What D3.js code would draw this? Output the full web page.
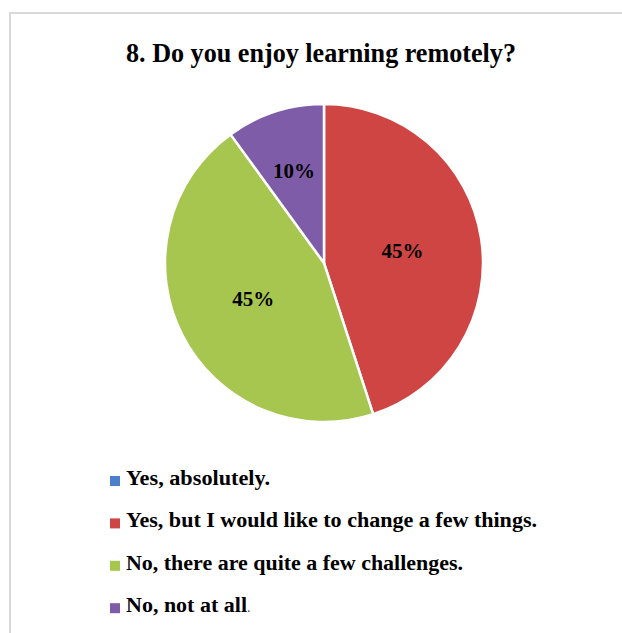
<!DOCTYPE html>
<html><head><meta charset="utf-8">
<script src="https://cdn.jsdelivr.net/npm/d3@7"></script>
<style>html,body{margin:0;background:#fff;overflow:hidden;} svg{display:block;}</style>
</head><body>
<script>
const title = "8. Do you enjoy learning remotely?";
const categories = ["Yes, absolutely.", "Yes, but I would like to change a few things.", "No, there are quite a few challenges.", "No, not at all"];
const values = [0, 45, 45, 10];
const colors = ["#4a7fcc", "#ce4543", "#a6c64f", "#7f5ca8"];

const W = 622, H = 633;
const svg = d3.select("body").append("svg").attr("width", W).attr("height", H);
svg.append("rect").attr("width", W).attr("height", H).attr("fill", "#fff");
// frame (top and left edges visible)
svg.append("path").attr("d", `M10,${H} V13 H${W}`)
  .attr("fill", "none").attr("stroke", "#d9d9d9").attr("stroke-width", 2);

const font = "'Liberation Serif','Times New Roman',serif";
svg.append("text").attr("x", 321).attr("y", 62).attr("text-anchor", "middle")
  .attr("font-family", font).attr("font-weight", "bold").attr("font-size", 28)
  .attr("textLength", 390).attr("lengthAdjust", "spacingAndGlyphs")
  .attr("fill", "#000").text(title);

const cx = 324, cy = 263, R = 159;
const total = d3.sum(values);
const pie = d3.pie().sort(null).value(d => d)(values);
const arc = d3.arc().innerRadius(0).outerRadius(R);
const g = svg.append("g").attr("transform", `translate(${cx},${cy})`);
g.selectAll("path").data(pie).join("path")
  .attr("d", arc).attr("fill", (d, i) => colors[i])
  .attr("stroke", "#fff").attr("stroke-width", 2.5).attr("stroke-linejoin", "miter");

pie.forEach((d, i) => {
  if (d.data <= 0) return;
  const share = d.data / total;
  const lr = share > 0.2 ? R * 0.5 : R * 0.61;
  const a = (d.startAngle + d.endAngle) / 2;
  const x = Math.sin(a) * lr, y = -Math.cos(a) * lr;
  g.append("text").attr("x", x).attr("y", y + 7).attr("text-anchor", "middle")
    .attr("font-family", font).attr("font-weight", "bold").attr("font-size", 20)
    .attr("textLength", 42).attr("lengthAdjust", "spacingAndGlyphs")
    .attr("fill", "#000").text(d3.format(".0%")(share));
});

const legend = svg.append("g");
const ly0 = 485, lstep = 42.4;
const legendWidths = [144, 411, 337, 121];
categories.forEach((c, i) => {
  const y = ly0 + i * lstep;
  legend.append("rect").attr("x", 110).attr("y", y - 9).attr("width", 10).attr("height", 10).attr("fill", colors[i]);
  legend.append("text").attr("x", 126).attr("y", y)
    .attr("font-family", font).attr("font-weight", "bold").attr("font-size", 20)
    .attr("fill", "#000").attr("textLength", legendWidths[i]).attr("lengthAdjust", "spacingAndGlyphs").text(c);
  if (i === 3) {
    legend.append("text").attr("x", 126 + legendWidths[i]).attr("y", y)
      .attr("font-family", font).attr("font-size", 14).attr("fill", "#444").text(".");
  }
});
</script>
</body></html>
